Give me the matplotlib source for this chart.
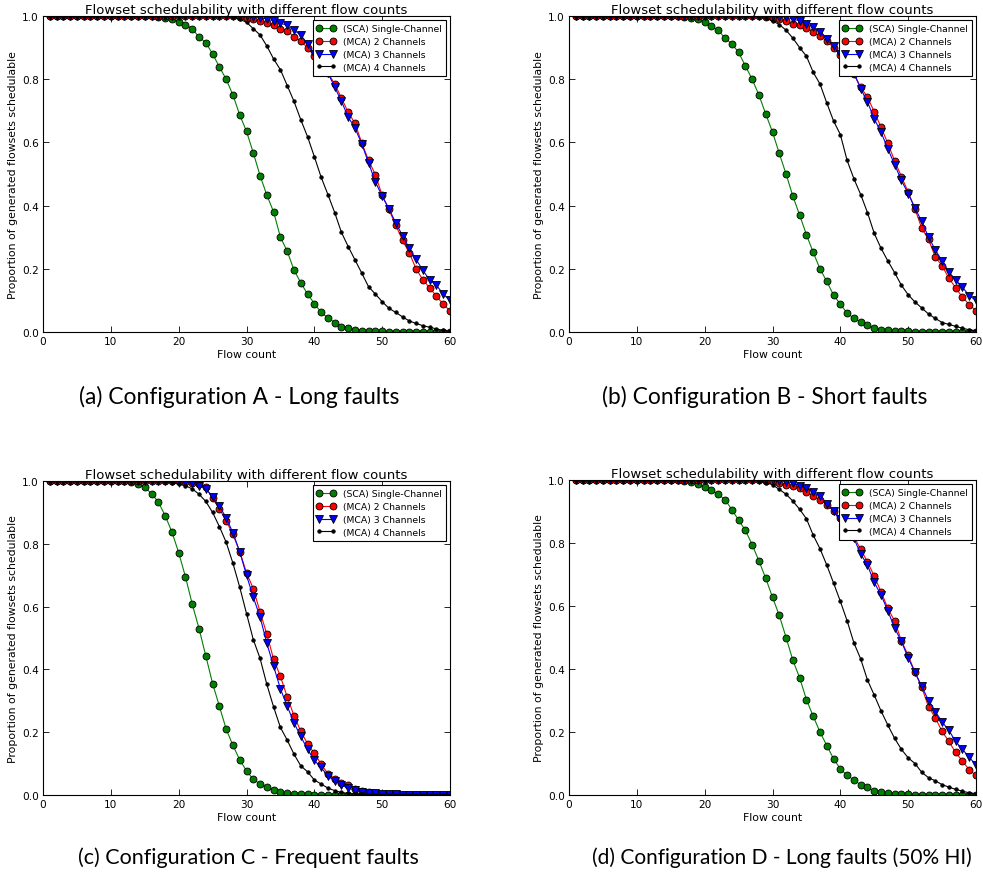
import matplotlib
matplotlib.use("Agg")
import matplotlib.pyplot as plt

flow_counts = list(range(1, 61))

# ---------------- Configuration A ----------------
sca_a = [1.0, 1.0, 1.0, 1.0, 1.0, 1.0, 1.0, 1.0, 1.0, 1.0,
         1.0, 1.0, 1.0, 1.0, 1.0, 1.0, 0.998, 0.995, 0.99, 0.982,
         0.973, 0.96, 0.933, 0.916, 0.88, 0.839, 0.80, 0.75, 0.687, 0.635,
         0.567, 0.495, 0.433, 0.38, 0.30, 0.256, 0.196, 0.156, 0.12, 0.09,
         0.062, 0.045, 0.03, 0.017, 0.012, 0.007, 0.004, 0.003, 0.002, 0.002,
         0.001, 0.001, 0.001, 0.0, 0.0, 0.0, 0.0, 0.0, 0.0, 0.0]
mca2_a = [1.0, 1.0, 1.0, 1.0, 1.0, 1.0, 1.0, 1.0, 1.0, 1.0,
          1.0, 1.0, 1.0, 1.0, 1.0, 1.0, 1.0, 1.0, 1.0, 1.0,
          1.0, 1.0, 1.0, 1.0, 1.0, 1.0, 1.0, 1.0, 0.998, 0.995,
          0.99, 0.985, 0.978, 0.97, 0.96, 0.953, 0.935, 0.92, 0.9, 0.873,
          0.85, 0.82, 0.785, 0.74, 0.695, 0.66, 0.598, 0.543, 0.498, 0.432,
          0.388, 0.338, 0.29, 0.25, 0.2, 0.165, 0.14, 0.113, 0.088, 0.067]
mca3_a = [1.0, 1.0, 1.0, 1.0, 1.0, 1.0, 1.0, 1.0, 1.0, 1.0,
          1.0, 1.0, 1.0, 1.0, 1.0, 1.0, 1.0, 1.0, 1.0, 1.0,
          1.0, 1.0, 1.0, 1.0, 1.0, 1.0, 1.0, 1.0, 1.0, 1.0,
          0.998, 0.995, 0.99, 0.985, 0.978, 0.97, 0.955, 0.94, 0.91, 0.88,
          0.855, 0.82, 0.775, 0.73, 0.68, 0.645, 0.595, 0.535, 0.475, 0.43,
          0.39, 0.345, 0.305, 0.265, 0.23, 0.195, 0.165, 0.148, 0.12, 0.1]
mca4_a = [1.0, 1.0, 1.0, 1.0, 1.0, 1.0, 1.0, 1.0, 1.0, 1.0,
          1.0, 1.0, 1.0, 1.0, 1.0, 1.0, 1.0, 1.0, 1.0, 1.0,
          1.0, 1.0, 1.0, 1.0, 1.0, 1.0, 1.0, 0.997, 0.99, 0.98,
          0.96, 0.94, 0.905, 0.864, 0.83, 0.78, 0.73, 0.672, 0.618, 0.555,
          0.49, 0.435, 0.378, 0.315, 0.27, 0.228, 0.186, 0.143, 0.12, 0.096,
          0.075, 0.062, 0.048, 0.035, 0.027, 0.02, 0.015, 0.01, 0.005, 0.003]

# ---------------- Configuration B ----------------
sca_b = [1.0, 1.0, 1.0, 1.0, 1.0, 1.0, 1.0, 1.0, 1.0, 1.0,
         1.0, 1.0, 1.0, 1.0, 1.0, 1.0, 0.998, 0.995, 0.99, 0.98,
         0.967, 0.955, 0.93, 0.912, 0.885, 0.842, 0.8, 0.75, 0.69, 0.633,
         0.565, 0.5, 0.43, 0.37, 0.308, 0.252, 0.2, 0.16, 0.117, 0.088,
         0.06, 0.043, 0.032, 0.022, 0.013, 0.006, 0.006, 0.004, 0.003, 0.002,
         0.001, 0.001, 0.001, 0.0, 0.0, 0.0, 0.0, 0.0, 0.0, 0.0]
mca2_b = [1.0, 1.0, 1.0, 1.0, 1.0, 1.0, 1.0, 1.0, 1.0, 1.0,
          1.0, 1.0, 1.0, 1.0, 1.0, 1.0, 1.0, 1.0, 1.0, 1.0,
          1.0, 1.0, 1.0, 1.0, 1.0, 1.0, 1.0, 1.0, 0.998, 0.995,
          0.99, 0.983, 0.975, 0.97, 0.963, 0.95, 0.937, 0.92, 0.9, 0.878,
          0.85, 0.815, 0.775, 0.743, 0.697, 0.648, 0.597, 0.542, 0.492, 0.443,
          0.39, 0.328, 0.293, 0.237, 0.21, 0.17, 0.14, 0.11, 0.087, 0.067]
mca3_b = [1.0, 1.0, 1.0, 1.0, 1.0, 1.0, 1.0, 1.0, 1.0, 1.0,
          1.0, 1.0, 1.0, 1.0, 1.0, 1.0, 1.0, 1.0, 1.0, 1.0,
          1.0, 1.0, 1.0, 1.0, 1.0, 1.0, 1.0, 1.0, 1.0, 1.0,
          0.998, 0.996, 0.99, 0.985, 0.976, 0.965, 0.948, 0.927, 0.905, 0.88,
          0.855, 0.82, 0.77, 0.728, 0.675, 0.632, 0.58, 0.53, 0.48, 0.438,
          0.392, 0.35, 0.30, 0.26, 0.225, 0.19, 0.165, 0.142, 0.115, 0.1]
mca4_b = [1.0, 1.0, 1.0, 1.0, 1.0, 1.0, 1.0, 1.0, 1.0, 1.0,
          1.0, 1.0, 1.0, 1.0, 1.0, 1.0, 1.0, 1.0, 1.0, 1.0,
          1.0, 1.0, 1.0, 1.0, 1.0, 1.0, 1.0, 0.997, 0.993, 0.985,
          0.973, 0.955, 0.93, 0.9, 0.873, 0.822, 0.785, 0.725, 0.668, 0.625,
          0.543, 0.485, 0.435, 0.378, 0.312, 0.265, 0.225, 0.188, 0.148, 0.118,
          0.095, 0.076, 0.057, 0.043, 0.03, 0.024, 0.018, 0.012, 0.007, 0.004]

# ---------------- Configuration C ----------------
sca_c = [1.0, 1.0, 1.0, 1.0, 1.0, 1.0, 1.0, 1.0, 1.0, 1.0,
         1.0, 1.0, 0.998, 0.99, 0.98, 0.96, 0.933, 0.89, 0.838, 0.772,
         0.695, 0.608, 0.53, 0.443, 0.355, 0.283, 0.21, 0.158, 0.112, 0.077,
         0.05, 0.035, 0.025, 0.015, 0.009, 0.006, 0.004, 0.002, 0.002, 0.001,
         0.001, 0.001, 0.0, 0.0, 0.0, 0.0, 0.0, 0.0, 0.0, 0.0,
         0.0, 0.0, 0.0, 0.0, 0.0, 0.0, 0.0, 0.0, 0.0, 0.0]
mca2_c = [1.0, 1.0, 1.0, 1.0, 1.0, 1.0, 1.0, 1.0, 1.0, 1.0,
          1.0, 1.0, 1.0, 1.0, 1.0, 1.0, 1.0, 1.0, 1.0, 1.0,
          0.998, 0.995, 0.99, 0.98, 0.945, 0.912, 0.873, 0.83, 0.775, 0.708,
          0.657, 0.583, 0.512, 0.432, 0.378, 0.312, 0.253, 0.203, 0.163, 0.133,
          0.098, 0.068, 0.052, 0.037, 0.032, 0.02, 0.012, 0.008, 0.006, 0.004,
          0.002, 0.002, 0.001, 0.001, 0.001, 0.0, 0.0, 0.0, 0.0, 0.0]
mca3_c = [1.0, 1.0, 1.0, 1.0, 1.0, 1.0, 1.0, 1.0, 1.0, 1.0,
          1.0, 1.0, 1.0, 1.0, 1.0, 1.0, 1.0, 1.0, 1.0, 1.0,
          0.998, 0.995, 0.985, 0.975, 0.95, 0.92, 0.883, 0.835, 0.775, 0.70,
          0.63, 0.567, 0.483, 0.41, 0.338, 0.283, 0.23, 0.187, 0.145, 0.11,
          0.088, 0.06, 0.045, 0.032, 0.022, 0.015, 0.01, 0.007, 0.005, 0.003,
          0.002, 0.002, 0.001, 0.001, 0.001, 0.0, 0.0, 0.0, 0.0, 0.0]
mca4_c = [1.0, 1.0, 1.0, 1.0, 1.0, 1.0, 1.0, 1.0, 1.0, 1.0,
          1.0, 1.0, 1.0, 1.0, 1.0, 1.0, 1.0, 0.998, 0.995, 0.99,
          0.985, 0.975, 0.958, 0.935, 0.9, 0.855, 0.805, 0.738, 0.662, 0.578,
          0.495, 0.435, 0.352, 0.28, 0.215, 0.175, 0.13, 0.093, 0.074, 0.048,
          0.035, 0.022, 0.014, 0.008, 0.005, 0.003, 0.002, 0.001, 0.001, 0.0,
          0.0, 0.0, 0.0, 0.0, 0.0, 0.0, 0.0, 0.0, 0.0, 0.0]

# ---------------- Configuration D ----------------
sca_d = [1.0, 1.0, 1.0, 1.0, 1.0, 1.0, 1.0, 1.0, 1.0, 1.0,
         1.0, 1.0, 1.0, 1.0, 1.0, 1.0, 0.998, 0.995, 0.988, 0.977,
         0.968, 0.954, 0.938, 0.906, 0.873, 0.84, 0.795, 0.743, 0.688, 0.628,
         0.57, 0.5, 0.428, 0.372, 0.303, 0.25, 0.2, 0.157, 0.115, 0.083,
         0.062, 0.048, 0.032, 0.024, 0.014, 0.01, 0.006, 0.004, 0.003, 0.002,
         0.001, 0.001, 0.001, 0.0, 0.0, 0.0, 0.0, 0.0, 0.0, 0.0]
mca2_d = [1.0, 1.0, 1.0, 1.0, 1.0, 1.0, 1.0, 1.0, 1.0, 1.0,
          1.0, 1.0, 1.0, 1.0, 1.0, 1.0, 1.0, 1.0, 1.0, 1.0,
          1.0, 1.0, 1.0, 1.0, 1.0, 1.0, 1.0, 1.0, 0.998, 0.996,
          0.99, 0.985, 0.98, 0.975, 0.963, 0.95, 0.938, 0.922, 0.902, 0.88,
          0.85, 0.82, 0.78, 0.74, 0.695, 0.645, 0.593, 0.552, 0.49, 0.443,
          0.39, 0.342, 0.28, 0.245, 0.202, 0.17, 0.135, 0.108, 0.08, 0.062]
mca3_d = [1.0, 1.0, 1.0, 1.0, 1.0, 1.0, 1.0, 1.0, 1.0, 1.0,
          1.0, 1.0, 1.0, 1.0, 1.0, 1.0, 1.0, 1.0, 1.0, 1.0,
          1.0, 1.0, 1.0, 1.0, 1.0, 1.0, 1.0, 1.0, 1.0, 1.0,
          0.998, 0.995, 0.99, 0.982, 0.975, 0.962, 0.948, 0.925, 0.903, 0.875,
          0.85, 0.815, 0.765, 0.73, 0.675, 0.635, 0.585, 0.53, 0.488, 0.435,
          0.39, 0.345, 0.30, 0.265, 0.232, 0.205, 0.17, 0.145, 0.12, 0.095]
mca4_d = [1.0, 1.0, 1.0, 1.0, 1.0, 1.0, 1.0, 1.0, 1.0, 1.0,
          1.0, 1.0, 1.0, 1.0, 1.0, 1.0, 1.0, 1.0, 1.0, 1.0,
          1.0, 1.0, 1.0, 1.0, 1.0, 1.0, 1.0, 0.997, 0.992, 0.985,
          0.97, 0.955, 0.933, 0.907, 0.877, 0.825, 0.782, 0.73, 0.673, 0.615,
          0.553, 0.483, 0.432, 0.365, 0.317, 0.267, 0.222, 0.18, 0.145, 0.118,
          0.1, 0.072, 0.055, 0.045, 0.033, 0.025, 0.018, 0.012, 0.007, 0.004]

series_labels = ["(SCA) Single-Channel", "(MCA) 2 Channels",
                 "(MCA) 3 Channels", "(MCA) 4 Channels"]
captions = ["(a) Configuration A - Long faults",
            "(b) Configuration B - Short faults",
            "(c) Configuration C - Frequent faults",
            "(d) Configuration D - Long faults (50% HI)"]
title_text = "Flowset schedulability with different flow counts"
xlabel_text = "Flow count"
ylabel_text = "Proportion of generated flowsets schedulable"
x_ticks = [0, 10, 20, 30, 40, 50, 60]
y_ticks = [0.0, 0.2, 0.4, 0.6, 0.8, 1.0]

panels = [
    (sca_a, mca2_a, mca3_a, mca4_a),
    (sca_b, mca2_b, mca3_b, mca4_b),
    (sca_c, mca2_c, mca3_c, mca4_c),
    (sca_d, mca2_d, mca3_d, mca4_d),
]

W, H = 983, 878
fig = plt.figure(figsize=(W / 100, H / 100), dpi=100)
fig.patch.set_facecolor("white")

# axes boxes in pixels: left, top, right, bottom
boxes = [(43, 17, 450, 333), (569, 17, 976, 333),
         (43, 482, 450, 796), (569, 481, 976, 796)]
# caption centre (x, y) and width target in pixels
caption_pos = [(239, 397, 322), (765, 397, 325), (248, 858, 340), (782, 858, 380)]

styles = [
    dict(color=(0, 0.5, 0), marker="o", markersize=5, markerfacecolor=(0, 0.5, 0)),
    dict(color="red", marker="o", markersize=5, markerfacecolor="red"),
    dict(color="blue", marker="v", markersize=5.5, markerfacecolor="blue"),
    dict(color="black", marker=".", markersize=5, markerfacecolor="black"),
]

caption_texts = []
for (l, t, r, b), data, cap, cpos in zip(boxes, panels, captions, caption_pos):
    ax = fig.add_axes([l / W, 1 - b / H, (r - l) / W, (b - t) / H])
    for ys, lab, st in zip(data, series_labels, styles):
        ax.plot(flow_counts, ys, label=lab, linewidth=0.8,
                markeredgecolor="black", markeredgewidth=0.6, **st)
    ax.set_xlim(0, 60)
    ax.set_ylim(0, 1.0)
    ax.set_xticks(x_ticks)
    ax.set_yticks(y_ticks)
    ax.set_yticklabels([f"{v:.1f}" for v in y_ticks])
    ax.tick_params(direction="in", top=True, right=True, labelsize=7.6,
                   length=4, width=0.6, pad=3)
    for s in ax.spines.values():
        s.set_linewidth(0.8)
    ax.set_title(title_text, fontsize=9.5, pad=2)
    ax.set_xlabel(xlabel_text, fontsize=7.8, labelpad=2)
    ax.set_ylabel(ylabel_text, fontsize=7.8, labelpad=3)
    leg = ax.legend(loc="upper right", fontsize=6.7, numpoints=2,
                    fancybox=False, framealpha=1, edgecolor="black",
                    borderpad=0.45, labelspacing=0.4, handlelength=2.0,
                    borderaxespad=0.45)
    leg.get_frame().set_linewidth(0.8)
    txt = fig.text(cpos[0] / W, 1 - cpos[1] / H, cap, ha="center", va="center",
                   fontsize=16.5, family=["Lato", "DejaVu Sans"])
    caption_texts.append((txt, cpos[2]))

# fit caption widths to the reference widths
fig.canvas.draw()
renderer = fig.canvas.get_renderer()
for txt, target in caption_texts:
    w = txt.get_window_extent(renderer).width
    size = min(16.5, 16.5 * target / w)
    txt.set_fontsize(size)

fig.savefig("out.png", dpi=100)
